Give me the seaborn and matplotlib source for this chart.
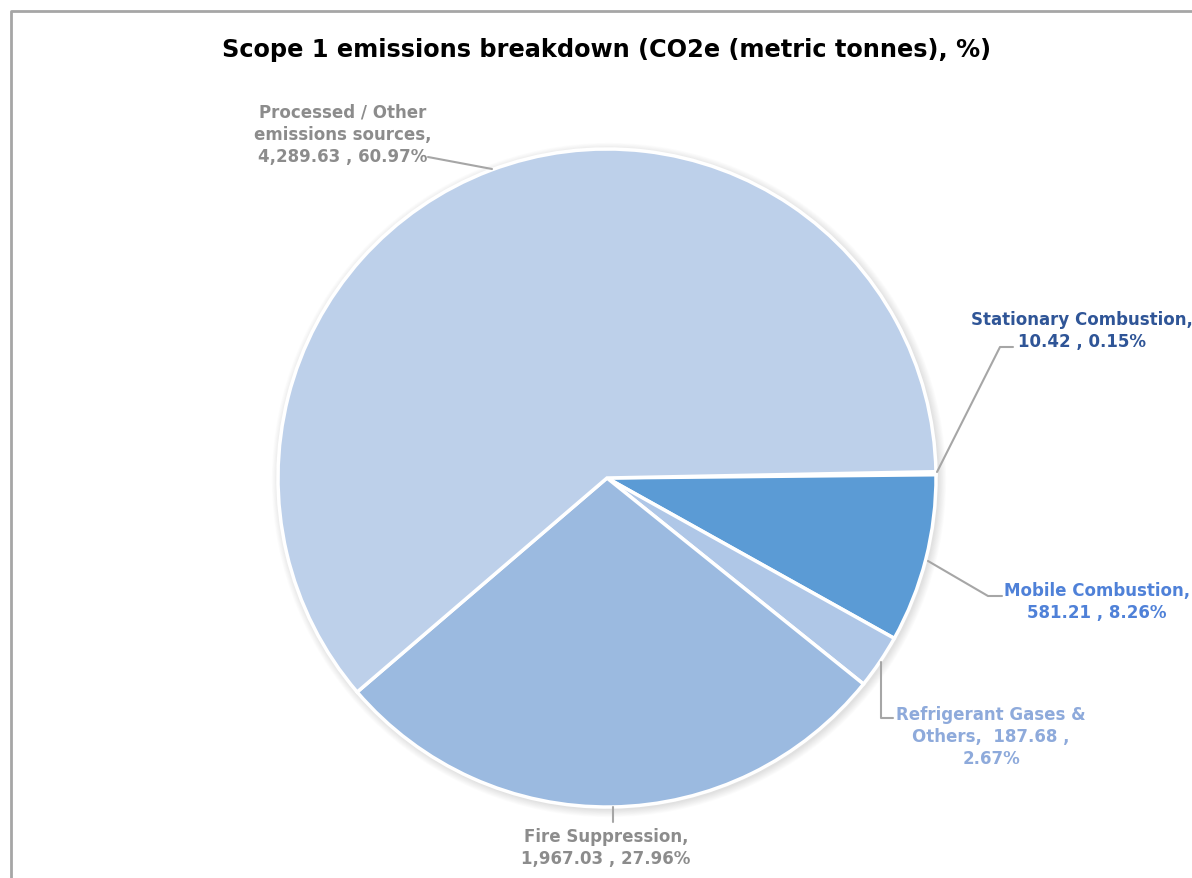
import matplotlib
matplotlib.use("Agg")
import matplotlib.pyplot as plt
import seaborn as sns
import numpy as np
from matplotlib.patches import Circle

sns.set_theme(style="white")
plt.rcParams['font.family'] = ['DejaVu Sans']

title = "Scope 1 emissions breakdown (CO2e (metric tonnes), %)"
categories = ["Stationary Combustion", "Mobile Combustion", "Refrigerant Gases & Others",
              "Fire Suppression", "Processed / Other emissions sources"]
values = [10.42, 581.21, 187.68, 1967.03, 4289.63]
slice_colors = ["#2F5597", "#5B9BD5", "#AFC7E7", "#9BBAE0", "#BDD0EA"]
label_colors = ["#2F5597", "#4F81D8", "#8EAADB", "#8C8C8C", "#8C8C8C"]

W, H = 1192, 879
fig = plt.figure(figsize=(W / 100, H / 100), dpi=100)
ax = fig.add_axes([0, 0, 1, 1])

cx, cy, R = 607, H - 479, 329

# soft shadow glow
for i in range(10):
    ax.add_patch(Circle((cx + 2, cy - 2), R + 1 + i * 0.8, color="#000000",
                        alpha=0.013, lw=0, zorder=0))

total = sum(values)
pcts = [v / total * 100 for v in values]
ax.pie(values, colors=slice_colors, startangle=1.1, counterclock=False,
       center=(cx, cy), radius=R,
       wedgeprops=dict(edgecolor="white", linewidth=2.5))
ax.set_xlim(0, W)
ax.set_ylim(0, H)
ax.set_aspect("equal", adjustable="box")
ax.axis("off")

def Y(y):
    return H - y

def fmt(v, p):
    return f"{v:,.2f} , {p:.2f}%"

texts = [
    f"{categories[0]},\n{fmt(values[0], pcts[0])}",
    f"Mobile Combustion,\n{fmt(values[1], pcts[1])}",
    f"Refrigerant Gases &\nOthers,  {values[2]:,.2f} ,\n{pcts[2]:.2f}%",
    f"Fire Suppression,\n{fmt(values[3], pcts[3])}",
    f"Processed / Other\nemissions sources,\n{fmt(values[4], pcts[4])}",
]
text_pos = [(1082, 331), (1097, 602), (991, 737), (606, 848), (343, 135)]
for t, (x, y), c in zip(texts, text_pos, label_colors):
    ax.text(x, Y(y), t, ha="center", va="center", fontsize=12, fontweight="bold",
            color=c, linespacing=1.3, zorder=5)

leaders = [
    [(1013, 348), (1000, 348), (937, 473)],
    [(1002, 597), (988, 597), (928, 562)],
    [(893, 719), (881, 719), (881, 663)],
    [(613, 823), (613, 808)],
    [(428, 158), (492, 170)],
]
for pts in leaders:
    xs = [p[0] for p in pts]
    ys = [Y(p[1]) for p in pts]
    ax.plot(xs, ys, color="#A6A6A6", lw=1.5, zorder=4)

ax.text(607, Y(50), title, ha="center", va="center", fontsize=17.3,
        fontweight="bold", color="black")

# frame border
ax.plot([11, 11, W + 5], [-5, Y(12), Y(12)], color="#A6A6A6", lw=2, zorder=6,
        clip_on=False)

fig.savefig("out.png", dpi=100)
